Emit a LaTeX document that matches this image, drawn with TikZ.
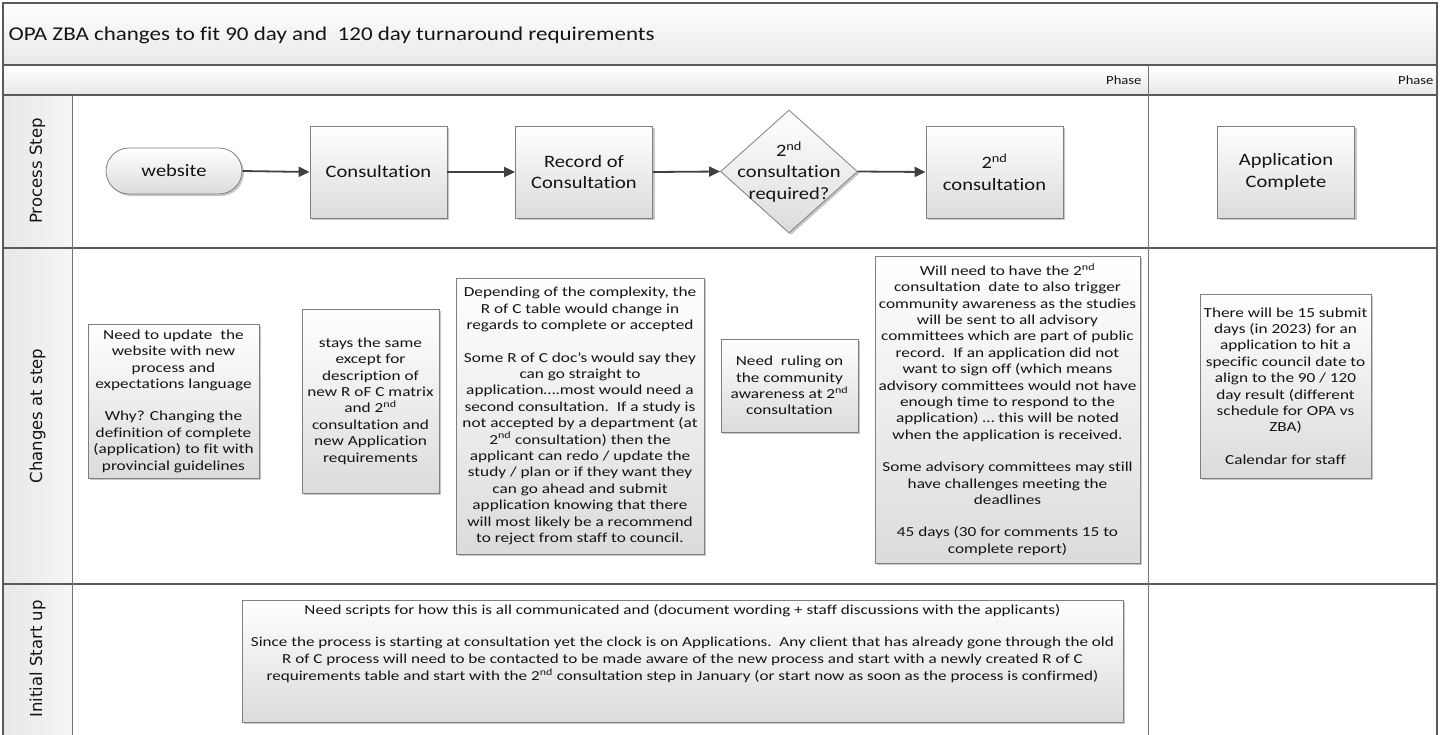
\documentclass[tikz,border=0pt]{standalone}
\usepackage{fontspec}
\setmainfont{Carlito}[FakeStretch=1.18,Ligatures=NoCommon]
\newfontfamily\notefont{Carlito}[FakeStretch=1.25,Ligatures=NoCommon]
\newfontfamily\lanefont{DejaVu Sans}
\usetikzlibrary{shapes.geometric,arrows.meta,shadows}
\definecolor{framecol}{HTML}{5A5A5A}
\definecolor{boxline}{HTML}{808080}
\definecolor{arrowcol}{HTML}{404040}
\definecolor{textcol}{HTML}{141414}
\begin{document}
\begin{tikzpicture}[x=1pt,y=-1pt,
  shaded/.style={top color=white,bottom color=black!14,draw=boxline,line width=0.8pt},
  shadowed/.style={drop shadow={shadow xshift=2pt,shadow yshift=-2pt,opacity=0.4,fill=black!55}},
  procbox/.style={shaded,shadowed,minimum width=137pt,minimum height=92pt,align=center,
    inner sep=1pt,text=textcol,font=\fontsize{17.4}{21.6}\selectfont},
  notebox/.style={shaded,shadowed,align=center,inner sep=1pt,text=textcol,
    font=\notefont\fontsize{13.8}{16.4}\selectfont},
  lanelabel/.style={rotate=90,font=\lanefont\fontsize{16.5}{18}\selectfont,text=textcol},
  phaselabel/.style={anchor=east,font=\fontsize{12.4}{14}\selectfont,text=textcol},
  conn/.style={draw=arrowcol,line width=1.8pt,-{Triangle[length=11pt,width=10pt]}},
  laneline/.style={draw=framecol,line width=1.3pt},
  phaseline/.style={draw=black!55,line width=0.9pt}
]
\useasboundingbox (0,0) rectangle (1440,734);
\clip (0,0) rectangle (1440,734);

% backgrounds
\fill[top color=white,bottom color=black!9] (3,3) rectangle (1437,65);
\fill[top color=white,bottom color=black!9] (3,65) rectangle (1437,95);
\fill[left color=black!9,right color=black!4] (3,95) rectangle (72,745);

% lines
\draw[laneline] (3,745) -- (3,3) -- (1437,3) -- (1437,745);
\draw[laneline] (3,65) -- (1437,65);
\draw[laneline] (3,95) -- (1437,95);
\draw[laneline] (3,248) -- (1437,248);
\draw[laneline] (3,584) -- (1437,584);
\draw[phaseline] (72,95) -- (72,745);
\draw[phaseline] (1148,65) -- (1148,745);

% title and phases
\node[anchor=west,text=textcol,font=\fontsize{19.5}{23}\selectfont] (title) at (5,35)
  {OPA ZBA changes to fit 90 day and\ \ 120 day turnaround requirements};
\node[phaselabel] (ph1) at (1145,80) {Phase};
\node[phaselabel] (ph2) at (1437,80) {Phase};

% lane labels
\node[lanelabel] (lane1) at (37.5,171) {Process Step};
\node[lanelabel] (lane2) at (37.5,416) {Changes at step};
\node[lanelabel] (lane3) at (37.5,659) {Initial Start up};

% process step
\node[procbox,rounded corners=23pt,minimum width=136pt,minimum height=46pt] (web) at (174,171) {website};
\node[procbox] (cons) at (378.5,172) {Consultation};
\node[procbox] (rec) at (584,172) {Record of\\Consultation};
\node[shaded,shadowed,shape=diamond,minimum width=137pt,minimum height=123pt,inner sep=0pt] (dec) at (789,171.5) {};
\node[align=center,text=textcol,font=\fontsize{17.4}{21.6}\selectfont] (dectext) at (789,172)
  {2\textsuperscript{nd}\\consultation\\required?};
\node[procbox] (cons2) at (994.5,172) {2\textsuperscript{nd}\\consultation};
\node[procbox] (appc) at (1286,172) {Application\\Complete};

\draw[conn] (web.east) -- (cons.west);
\draw[conn] (cons.east) -- (rec.west);
\draw[conn] (rec.east) -- (dec.west);
\draw[conn] (dec.east) -- (cons2.west);

% changes at step
\node[notebox,minimum width=171pt,minimum height=154pt] (n1) at (173.5,401)
  {Need to update\ \ the\\website with new\\process and\\expectations language\\[16pt]
   Why? Changing the\\definition of complete\\(application) to fit with\\provincial guidelines};
\node[notebox,minimum width=137pt,minimum height=184pt] (n2) at (370.5,401)
  {stays the same\\except for\\description of\\new R oF C matrix\\and 2\textsuperscript{nd}\\consultation and\\new Application\\requirements};
\node[notebox,minimum width=248pt,minimum height=276pt] (n3) at (580,416)
  {Depending of the complexity, the\\R of C table would change in\\regards to complete or accepted\\[16pt]
   Some R of C doc’s would say they\\can go straight to\\application….most would need a\\second consultation.\ \ If a study is\\not accepted by a department (at\\2\textsuperscript{nd} consultation) then the\\applicant can redo / update the\\study / plan or if they want they\\can go ahead and submit\\application knowing that there\\will most likely be a recommend\\to reject from staff to council.};
\node[notebox,minimum width=137pt,minimum height=93pt] (n4) at (789.5,385.5)
  {Need\ \ ruling on\\the community\\awareness at 2\textsuperscript{nd}\\consultation};
\node[notebox,minimum width=265pt,minimum height=307pt] (n5) at (1007.5,409.5)
  {Will need to have the 2\textsuperscript{nd}\\consultation\ \ date to also trigger\\community awareness as the studies\\will be sent to all advisory\\committees which are part of public\\record.\ \ If an application did not\\want to sign off (which means\\advisory committees would not have\\enough time to respond to the\\application) … this will be noted\\when the application is received.\\[16pt]
   Some advisory committees may still\\have challenges meeting the\\deadlines\\[16pt]
   45 days (30 for comments 15 to\\complete report)};
\node[notebox,minimum width=171pt,minimum height=184pt] (n6) at (1285.5,386)
  {There will be 15 submit\\days (in 2023) for an\\application to hit a\\specific council date to\\align to the 90 / 120\\day result (different\\schedule for OPA vs\\ZBA)\\[16pt]
   Calendar for staff};

% initial start up
\node[notebox,minimum width=881pt,minimum height=122pt] (n7) at (682.5,661) {};
\node[anchor=north,align=center,inner sep=0pt,text=textcol,font=\notefont\fontsize{13.7}{16.7}\selectfont] (n7text) at (682.5,604)
  {Need scripts for how this is all communicated and (document wording + staff discussions with the applicants)\\[16pt]
   Since the process is starting at consultation yet the clock is on Applications.\ \ Any client that has already gone through the old\\
   R of C process will need to be contacted to be made aware of the new process and start with a newly created R of C\\
   requirements table and start with the 2\textsuperscript{nd} consultation step in January (or start now as soon as the process is confirmed)};
\end{tikzpicture}
\end{document}
